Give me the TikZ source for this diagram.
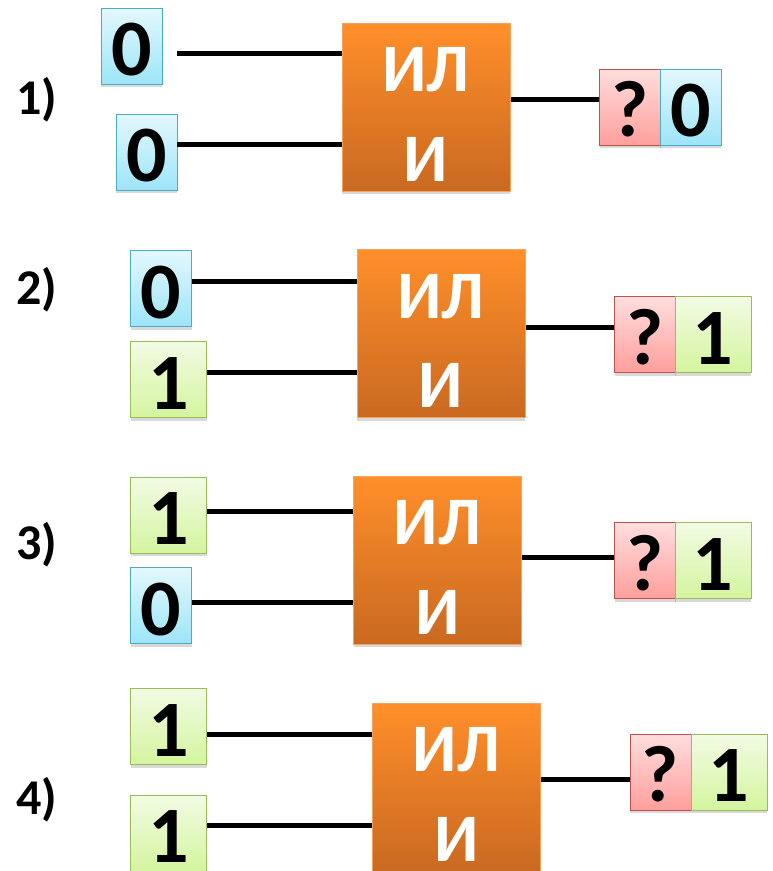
\documentclass[tikz,border=0pt]{standalone}
\usepackage{fontspec}
\setmainfont{Carlito}
\usetikzlibrary{shadows,calc}
\definecolor{bluetop}{HTML}{E3F8FD}
\definecolor{bluebot}{HTML}{9DE5F8}
\definecolor{blueedge}{HTML}{4BACC6}
\definecolor{greentop}{HTML}{F2FBE4}
\definecolor{greenbot}{HTML}{D4F59E}
\definecolor{greenedge}{HTML}{9BBB59}
\definecolor{redtop}{HTML}{FFDEDD}
\definecolor{redbot}{HTML}{FF9F9C}
\definecolor{rededge}{HTML}{C0504D}
\definecolor{gatetop}{HTML}{FF8F2A}
\definecolor{gatebot}{HTML}{C96921}
\definecolor{gateedge}{HTML}{F8A25E}
\tikzset{
  shd/.style={drop shadow={shadow xshift=0pt,shadow yshift=-3pt,opacity=0.15,fill=black}},
  valbox/.style={shd,line width=1pt,minimum height=76pt,inner sep=0pt,
    font=\fontsize{80}{80}\selectfont\bfseries,text height=59pt,text depth=0pt},
  zerobox/.style={valbox,minimum width=61pt,draw=blueedge,top color=bluetop,bottom color=bluebot},
  onebox/.style={valbox,minimum width=76pt,draw=greenedge,top color=greentop,bottom color=greenbot},
  qbox/.style={valbox,minimum width=61pt,draw=rededge,top color=redtop,bottom color=redbot},
  gate/.style={shd,line width=0.8pt,draw=gateedge,top color=gatetop,bottom color=gatebot,
    minimum width=168pt,minimum height=168pt,inner sep=0pt},
  gtext/.style={text=white,font=\fontsize{68}{68}\selectfont\bfseries,inner sep=0pt},
  rowlabel/.style={anchor=base west,inner sep=0pt,font=\fontsize{50}{50}\selectfont\bfseries},
  wire/.style={line width=5pt,draw=black}
}
\begin{document}
\begin{tikzpicture}[x=1pt,y=-1pt]
\useasboundingbox (0,0) rectangle (773,871);
% ---------- row 1
\node[rowlabel] (l1) at (16,114) {1)};
\node[zerobox] (a1) at (131.5,46) {0};
\node[zerobox] (b1) at (146.5,152) {0};
\node[gate] (g1) at (426,107) {};
\node[gtext] (g1t) at ($(g1.center)+(0,-37)$) {ИЛ};
\node[gtext] (g1b) at ($(g1.center)+(0,52)$) {И};
\node[qbox] (q1) at (630,107) {?};
\node[zerobox] (r1) at (690.5,107) {0};
\coordinate (a1w) at (177,53);
\coordinate (b1w) at (177,144);
\coordinate (o1) at (511,99);
\draw[wire] (a1w) -- (a1w -| g1.west);
\draw[wire] (b1w) -- (b1w -| g1.west);
\draw[wire] (o1) -- (o1 -| q1.west);
% ---------- row 2
\node[rowlabel] (l2) at (16,304) {2)};
\node[zerobox] (a2) at (161,288.5) {0};
\node[onebox] (b2) at (168.5,379.5) {1};
\node[gate] (g2) at (441,333.5) {};
\node[gtext] (g2t) at ($(g2.center)+(0,-37)$) {ИЛ};
\node[gtext] (g2b) at ($(g2.center)+(0,52)$) {И};
\node[qbox] (q2) at (645,334.5) {?};
\node[onebox] (r2) at (713,334.5) {1};
\coordinate (a2w) at (192,281);
\coordinate (b2w) at (207,372);
\coordinate (o2) at (526,327);
\draw[wire] (a2w) -- (a2w -| g2.west);
\draw[wire] (b2w) -- (b2w -| g2.west);
\draw[wire] (o2) -- (o2 -| q2.west);
% ---------- row 3
\node[rowlabel] (l3) at (16,559) {3)};
\node[onebox] (a3) at (168.5,515) {1};
\node[zerobox] (b3) at (161,605.5) {0};
\node[gate] (g3) at (437.5,560) {};
\node[gtext] (g3t) at ($(g3.center)+(0,-37)$) {ИЛ};
\node[gtext] (g3b) at ($(g3.center)+(0,52)$) {И};
\node[qbox] (q3) at (645,560.5) {?};
\node[onebox] (r3) at (713,560.5) {1};
\coordinate (a3w) at (207,511);
\coordinate (b3w) at (192,602);
\coordinate (o3) at (522,557);
\draw[wire] (a3w) -- (a3w -| g3.west);
\draw[wire] (b3w) -- (b3w -| g3.west);
\draw[wire] (o3) -- (o3 -| q3.west);
% ---------- row 4
\node[rowlabel] (l4) at (16,814) {4)};
\node[onebox] (a4) at (168.5,726.5) {1};
\node[onebox] (b4) at (168.5,833) {1};
\node[gate] (g4) at (456.5,787) {};
\node[gtext] (g4t) at ($(g4.center)+(0,-37)$) {ИЛ};
\node[gtext] (g4b) at ($(g4.center)+(0,52)$) {И};
\node[qbox] (q4) at (660.5,772) {?};
\node[onebox] (r4) at (729,772) {1};
\coordinate (a4w) at (207,734);
\coordinate (b4w) at (207,825);
\coordinate (o4) at (541,779);
\draw[wire] (a4w) -- (a4w -| g4.west);
\draw[wire] (b4w) -- (b4w -| g4.west);
\draw[wire] (o4) -- (o4 -| q4.west);
\end{tikzpicture}
\end{document}
